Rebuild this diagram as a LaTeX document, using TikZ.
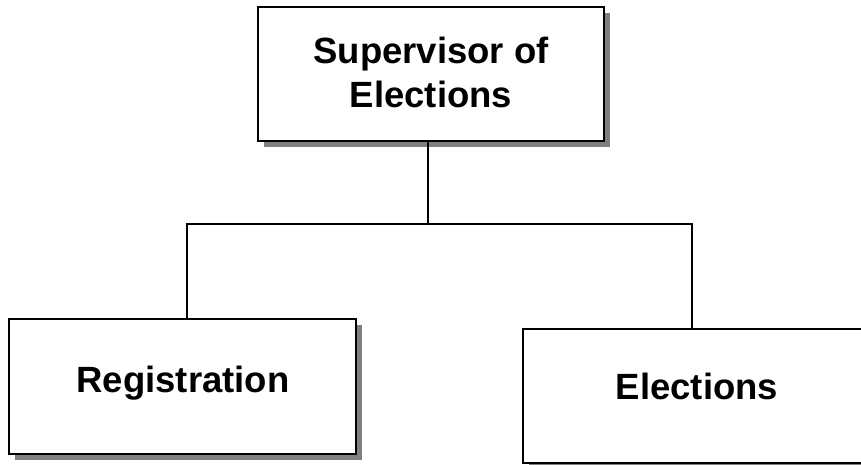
\documentclass[tikz,border=0pt]{standalone}
\usepackage{fontspec}
\setmainfont{Liberation Sans}
\usetikzlibrary{shadows}
\definecolor{shadowgray}{RGB}{128,128,128}
\tikzset{
  orgbox/.style={draw=black, line width=2pt, fill=white, rectangle, inner sep=0pt,
    drop shadow={shadow xshift=6pt, shadow yshift=-6pt, fill=shadowgray, opacity=1}},
  boxtext/.style={font=\fontsize{36.5}{44}\selectfont\bfseries, inner sep=0pt, text=black},
  link/.style={draw=black, line width=2pt}
}
\begin{document}
\begin{tikzpicture}[x=1pt,y=-1pt]
\clip (0,0) rectangle (861,464);
\fill[white] (0,0) rectangle (861,464);
% boxes
\node[orgbox, minimum width=346pt, minimum height=134pt] (sup) at (431,74) {};
\node[orgbox, minimum width=347pt, minimum height=135pt] (reg) at (182.5,386.5) {};
\node[orgbox, minimum width=347pt, minimum height=134pt] (ele) at (696.5,396) {};
% texts
\node[boxtext, align=center] (suptxt) at (431,72) {Supervisor of\\Elections};
\node[boxtext, anchor=base] (regtxt) at (183,392) {Registration};
\node[boxtext, anchor=base] (eletxt) at (697,399) {Elections};
% connectors
\coordinate (j) at (428,224);
\coordinate (jl) at (187,224);
\coordinate (jr) at (692,224);
\draw[link] (j |- sup.south) -- (j);
\draw[link] (jl |- reg.north) -- (jl) -- (jr) -- (jr |- ele.north);
\end{tikzpicture}
\end{document}
